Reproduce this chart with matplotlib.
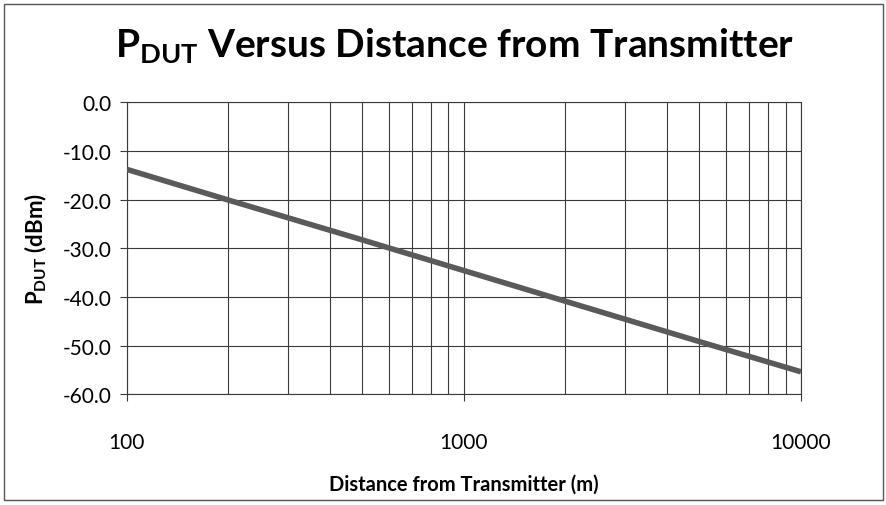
import matplotlib

matplotlib.use("Agg")
import matplotlib.pyplot as plt
from matplotlib.patches import Rectangle
from matplotlib.ticker import FixedLocator, NullFormatter

plt.rcParams["font.family"] = ["Lato", "DejaVu Sans"]
plt.rcParams["mathtext.fontset"] = "custom"
plt.rcParams["mathtext.rm"] = "Lato"
plt.rcParams["mathtext.bf"] = "Lato:bold"

# Distance from transmitter (m) and received power (dBm)
distance_m = [100, 200, 500, 1000, 2000, 5000, 10000]
p_dut_dbm = [-13.8, -20.1, -28.3, -34.6, -40.9, -49.2, -55.4]

y_ticks = [0, -10, -20, -30, -40, -50, -60]
x_major = [100, 1000, 10000]
x_minor = [200, 300, 400, 500, 600, 700, 800, 900,
           2000, 3000, 4000, 5000, 6000, 7000, 8000, 9000]

fig = plt.figure(figsize=(8.87, 5.06), dpi=100)
ax = fig.add_axes([0.143, 0.219, 0.760, 0.577])

ax.plot(distance_m, p_dut_dbm, color="#5a5a5a", lw=4, solid_capstyle="butt", zorder=3)

ax.set_xscale("log")
ax.set_xlim(100, 10000)
ax.set_ylim(-60, 0)

ax.xaxis.set_major_locator(FixedLocator(x_major))
ax.xaxis.set_minor_locator(FixedLocator(x_minor))
ax.xaxis.set_minor_formatter(NullFormatter())
ax.set_xticklabels([str(v) for v in x_major])
ax.set_yticks(y_ticks)
ax.set_yticklabels([f"{v:.1f}" for v in y_ticks])

ax.grid(True, which="both", axis="x", color="#3a3a3a", lw=0.8)
ax.grid(True, which="major", axis="y", color="#3a3a3a", lw=0.8)
ax.tick_params(axis="x", which="major", length=5, pad=22, labelsize=15, color="#3a3a3a")
ax.tick_params(axis="x", which="minor", length=0)
ax.tick_params(axis="y", length=5, pad=6, labelsize=15, color="#3a3a3a")
for s in ax.spines.values():
    s.set_color("#3a3a3a")
    s.set_linewidth(0.8)

ax.set_xlabel("Distance from Transmitter (m)", fontsize=14.5, fontweight="bold", labelpad=16)
ax.set_ylabel(r"$\mathbf{P_{DUT}}$ (dBm)", fontsize=16, fontweight="bold", labelpad=10)

fig.text(0.512, 0.91, r"$\mathbf{P_{DUT}}$ Versus Distance from Transmitter",
         ha="center", va="center", fontsize=28, fontweight="bold")

fig.patches.append(Rectangle((0.004, 0.01), 0.992, 0.98, transform=fig.transFigure,
                             fill=False, edgecolor="#555555", lw=1.0))

fig.savefig("out.png", dpi=100)
